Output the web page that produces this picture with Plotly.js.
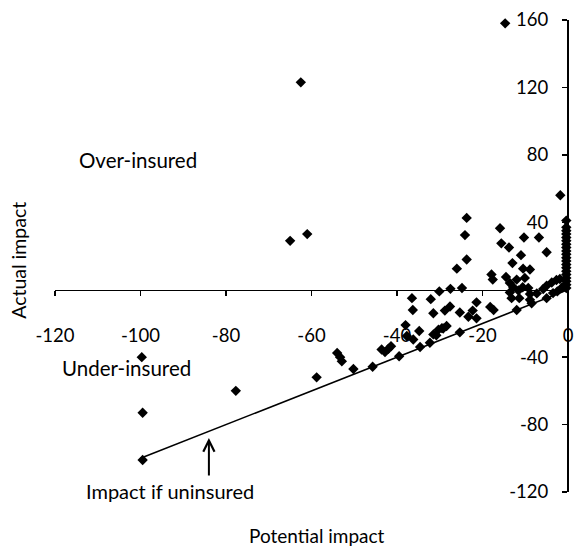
<!DOCTYPE html>
<html>
<head>
<meta charset="utf-8">
<script src="https://cdn.plot.ly/plotly-3.0.1.min.js"></script>
<style>html,body{margin:0;padding:0;background:#fff;}#chart{width:574px;height:548px;}</style>
</head>
<body>
<div id="chart"></div>
<script>
// Potential impact (x) and actual impact (y) of each case
const potentialImpact = [
  -14.7, -62.5, -65.0, -61.0, -1.8, -99.7, -99.5, -77.7, -99.5, -58.8,
  -54.0, -53.3, -52.9, -50.2, -45.7, -43.6, -42.8, -42.0, -41.4, -39.5,
  -38.0, -37.7, -36.2, -34.6, -34.8, -32.3, -31.5, -30.3, -29.5, -28.4,
  -36.3, -36.5, -32.1, -31.5, -30.1, -27.5, -24.8, -28.8, -27.6, -25.3,
  -25.3, -23.3, -22.3, -21.4, -21.4,
  -23.7, -24.1, -23.7, -26.0,
  -15.9, -15.6, -13.8, -10.3, -6.8, -5.0, -11.0, -13.0, -10.5, -8.9,
  -17.9, -17.6, -14.5, -13.6, -12.0, -10.1, -10.6, -12.8, -11.6, -13.6,
  -13.2, -11.4, -18.2, -17.4, -12.0, -9.3, -8.9, -7.3, -8.9, -8.5,
  -5.8, -5.0, -3.8, -2.7, -1.9, -5.0, -3.5, -2.5, -29.2, -30.8,
  -0.4, -0.4, -0.4, -0.4, -0.4, -0.4, -0.4, -0.4, -0.4, -0.4,
  -0.4, -0.4, -0.4, -0.4, -0.4, -0.4, -0.4, -0.4, -0.4, -0.4,
  -1.0, -1.5
];
const actualImpact = [
  158, 123, 29, 33, 56, -40, -73, -60, -101, -52,
  -37.5, -40, -42.5, -47, -45.7, -35.5, -37, -35, -33.5, -39.5,
  -21, -27.5, -29.5, -34, -24.5, -31.5, -26.5, -23.7, -22.8, -21.5,
  -12, -5, -5.6, -14, -1, 0.5, 1, -12.4, -10, -13.5,
  -25.3, -16, -12.4, -17, -7.5,
  42.6, 32.4, 17.9, 12.5,
  36.5, 27.5, 25, 31, 31, 22.2, 20.5, 15.8, 12.5, 12,
  9, 6, 7.5, 4, 6, 7, 1.5, 1.5, -0.5, -1.6,
  -5, -5, -10.2, -12, -12, 1, -2.6, -2.2, -6, -8,
  0.4, 2.4, 4.3, 5.8, 6.4, -5, -2, -1, -23, -27,
  41, 37, 35, 33, 31, 29, 27, 25, 23, 21,
  19, 17, 15, 13, 11, 9, 7, 5, 3, 1,
  2, 1
];
// Impact if uninsured reference line
const uninsuredX = [-100, 0];
const uninsuredY = [-100, 0];

const xTickVals = [-120, -100, -80, -60, -40, -20, 0];
const xTickText = ['-120', '-100', '-80', '-60', '-40', '-20', '0'];
const yTickVals = [-120, -80, -40, 40, 80, 120, 160];
const yTickText = ['-120', '-80', '-40', '40', '80', '120', '160'];

const FONT = 'Lato, "Open Sans", sans-serif';

const traces = [
  {
    x: uninsuredX, y: uninsuredY, mode: 'lines', type: 'scatter',
    line: {color: '#000', width: 1.6}, hoverinfo: 'skip', showlegend: false
  },
  {
    x: potentialImpact, y: actualImpact, mode: 'markers', type: 'scatter',
    marker: {symbol: 'diamond', size: 8, color: '#000'},
    showlegend: false, cliponaxis: false
  }
];

const layout = {
  width: 574, height: 548,
  margin: {l: 55, r: 6, t: 20, b: 56},
  paper_bgcolor: '#fff', plot_bgcolor: '#fff',
  font: {family: FONT, size: 18, color: '#000'},
  showlegend: false,
  xaxis: {
    range: [-120, 0], anchor: 'free', position: 120 / 280,
    tickmode: 'array', tickvals: xTickVals, ticktext: xTickText,
    ticks: 'outside', ticklen: 5, tickwidth: 1.5, tickcolor: '#000',
    ticklabelstandoff: 23,
    showline: true, linecolor: '#000', linewidth: 1.6,
    showgrid: false, zeroline: false,
    tickfont: {family: FONT, size: 18.5, color: '#000'}
  },
  yaxis: {
    range: [-120, 160], anchor: 'free', position: 1, side: 'left',
    tickmode: 'array', tickvals: yTickVals, ticktext: yTickText,
    ticks: 'outside', ticklen: 5, tickwidth: 1.5, tickcolor: '#000',
    ticklabelstandoff: 10,
    showline: true, linecolor: '#000', linewidth: 2,
    showgrid: false, zeroline: false,
    tickfont: {family: FONT, size: 18.5, color: '#000'}
  },
  annotations: [
    {text: 'Over-insured', x: -100.6, y: 76.8, xref: 'x', yref: 'y', showarrow: false,
     xanchor: 'center', yanchor: 'middle', font: {family: FONT, size: 20.5}},
    {text: 'Under-insured', x: -103.2, y: -46.4, xref: 'x', yref: 'y', showarrow: false,
     xanchor: 'center', yanchor: 'middle', font: {family: FONT, size: 20.5}},
    {text: 'Impact if uninsured', x: -93.2, y: -119.6, xref: 'x', yref: 'y', showarrow: false,
     xanchor: 'center', yanchor: 'middle', font: {family: FONT, size: 20}},
    {text: '', x: -84, y: -88, xref: 'x', yref: 'y', showarrow: true,
     ax: 0, ay: 39, arrowhead: 5, arrowsize: 1.1, arrowwidth: 2, arrowcolor: '#000', standoff: 0},
    {text: 'Actual impact', x: -0.07, y: 0.49, xref: 'paper', yref: 'paper', showarrow: false,
     textangle: -90, xanchor: 'center', yanchor: 'middle', font: {family: FONT, size: 19.5}},
    {text: 'Potential impact', x: 0.511, y: -0.093, xref: 'paper', yref: 'paper', showarrow: false,
     xanchor: 'center', yanchor: 'middle', font: {family: FONT, size: 19}}
  ]
};

Plotly.newPlot('chart', traces, layout, {displayModeBar: false, staticPlot: true});
</script>
</body>
</html>
